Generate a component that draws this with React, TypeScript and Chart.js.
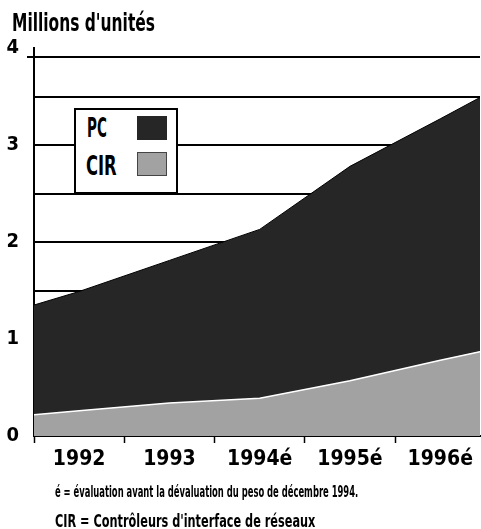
import React, { useEffect, useLayoutEffect, useRef } from 'react';
import { Chart, registerables } from 'chart.js';

Chart.register(...registerables);

// ---- data ----
const categories = ['1992', '1993', '1994é', '1995é', '1996é'];
const categoryYears = [1992, 1993, 1994, 1995, 1996];
const sampleYears = [1991.5, 1992, 1993, 1994, 1995, 1996, 1996.44];
const cirValues = [0.22, 0.26, 0.34, 0.39, 0.57, 0.78, 0.87];
const pcValues = [1.13, 1.23, 1.47, 1.74, 2.21, 2.49, 2.62];
const seriesNames = ['PC', 'CIR'];
const yTickValues = [0, 0.5, 1, 1.5, 2, 2.5, 3, 3.5, 3.91, 4];
const yFrameTop = 3.91;
const xBoundaryTicks = [1991.5, 1992.5, 1993.5, 1994.5, 1995.5];
const titleText = "Millions d'unités";
const footnotes = [
  'é = évaluation avant la dévaluation du peso de décembre 1994.',
  'CIR = Contrôleurs d\'interface de réseaux',
];

// ---- styles ----
const W = 481;
const H = 529;
const FONT = '"Liberation Sans Narrow", "DejaVu Sans Condensed", "Arial Narrow", "Liberation Sans", sans-serif';
const PC_COLOR = '#262626';
const CIR_COLOR = '#a2a2a2';

type FitProps = { text: string; left: number; baseline: number; size: number; width: number };

function FitText({ text, left, baseline, size, width }: FitProps) {
  const ref = useRef<HTMLSpanElement>(null);
  useLayoutEffect(() => {
    const el = ref.current;
    if (!el) return;
    const fit = () => {
      const w = el.offsetWidth;
      if (w > 0) el.style.transform = `scaleX(${width / w})`;
    };
    fit();
    if ((document as any).fonts && (document as any).fonts.ready) {
      (document as any).fonts.ready.then(fit);
    }
  }, [text, width]);
  return (
    <span
      ref={ref}
      style={{
        position: 'absolute',
        left,
        top: baseline - 0.8465 * size,
        fontFamily: FONT,
        fontWeight: 'bold',
        fontSize: size,
        lineHeight: 1,
        whiteSpace: 'nowrap',
        transformOrigin: 'left top',
        color: '#000',
      }}
    >
      {text}
    </span>
  );
}

export default function App() {
  const canvasRef = useRef<HTMLCanvasElement>(null);

  useEffect(() => {
    const canvas = canvasRef.current;
    if (!canvas) return;
    const chart = new Chart(canvas, {
      type: 'line',
      data: {
        datasets: [
          {
            label: seriesNames[1],
            data: sampleYears.map((x, i) => ({ x, y: cirValues[i] })),
            backgroundColor: CIR_COLOR,
            borderColor: '#ffffff',
            borderWidth: 1.5,
            fill: 'origin',
            pointRadius: 0,
            tension: 0,
          },
          {
            label: seriesNames[0],
            data: sampleYears.map((x, i) => ({ x, y: pcValues[i] })),
            backgroundColor: PC_COLOR,
            borderColor: '#000000',
            borderWidth: 1,
            fill: '-1',
            pointRadius: 0,
            tension: 0,
          },
        ],
      },
      options: {
        responsive: false,
        animation: false,
        layout: { padding: { top: 48, left: 0, right: 1, bottom: 0 } },
        plugins: {
          legend: { display: false },
          title: { display: false },
          tooltip: { enabled: false },
        },
        scales: {
          x: {
            type: 'linear',
            min: sampleYears[0],
            max: sampleYears[sampleYears.length - 1],
            afterBuildTicks: (scale: any) => {
              const vals = [...xBoundaryTicks, ...categoryYears].sort((a, b) => a - b);
              scale.ticks = vals.map((v) => ({ value: v }));
            },
            afterFit: (scale: any) => {
              scale.height = H - 436;
            },
            ticks: {
              autoSkip: false,
              maxRotation: 0,
              padding: 4,
              color: '#000',
              font: { family: FONT, weight: 'bold', size: 21 },
              callback: (value: any) => {
                const idx = categoryYears.indexOf(Number(value));
                return idx >= 0 ? categories[idx] : '';
              },
            },
            grid: {
              drawOnChartArea: false,
              drawTicks: true,
              tickLength: 7,
              tickWidth: 1.5,
              tickColor: (ctx: any) =>
                ctx.tick && categoryYears.includes(ctx.tick.value) ? 'rgba(0,0,0,0)' : '#000',
            },
            border: { display: true, color: '#000', width: 2 },
          },
          y: {
            stacked: true,
            min: 0,
            max: 4,
            afterBuildTicks: (scale: any) => {
              scale.ticks = yTickValues.map((v) => ({ value: v }));
            },
            afterFit: (scale: any) => {
              scale.width = 34;
            },
            ticks: {
              padding: 8,
              color: '#000',
              font: { family: FONT, weight: 'bold', size: 20 },
              callback: (value: any) => (Number.isInteger(Number(value)) ? String(value) : ''),
            },
            grid: {
              color: (ctx: any) => (ctx.tick && ctx.tick.value === 4 ? 'rgba(0,0,0,0)' : '#000'),
              lineWidth: 2,
              drawTicks: true,
              tickLength: 7,
              tickWidth: 2,
              tickColor: (ctx: any) => (ctx.tick && ctx.tick.value === yFrameTop ? '#000' : 'rgba(0,0,0,0)'),
            },
            border: { display: true, color: '#000', width: 2 },
          },
        },
      } as any,
    });
    return () => chart.destroy();
  }, []);

  return (
    <div style={{ position: 'absolute', left: 0, top: 0, width: W, height: H, background: '#fff', overflow: 'hidden' }}>
      <canvas ref={canvasRef} width={W} height={H} style={{ position: 'absolute', left: 0, top: 0 }} />
      <FitText text={titleText} left={12} baseline={31} size={25} width={143} />
      {/* legend */}
      <div
        style={{
          position: 'absolute',
          left: 74,
          top: 108,
          width: 100,
          height: 82,
          border: '2px solid #000',
          background: '#fff',
        }}
      />
      <FitText text={seriesNames[0]} left={87} baseline={137} size={27} width={20} />
      <div style={{ position: 'absolute', left: 137, top: 116, width: 30, height: 24, background: PC_COLOR }} />
      <FitText text={seriesNames[1]} left={86} baseline={175} size={27} width={31} />
      <div
        style={{
          position: 'absolute',
          left: 137,
          top: 152,
          width: 28,
          height: 22,
          background: CIR_COLOR,
          border: '1px solid #444',
        }}
      />
      <FitText text={footnotes[0]} left={55} baseline={498} size={16} width={303} />
      <FitText text={footnotes[1]} left={55} baseline={527} size={17} width={260} />
    </div>
  );
}
